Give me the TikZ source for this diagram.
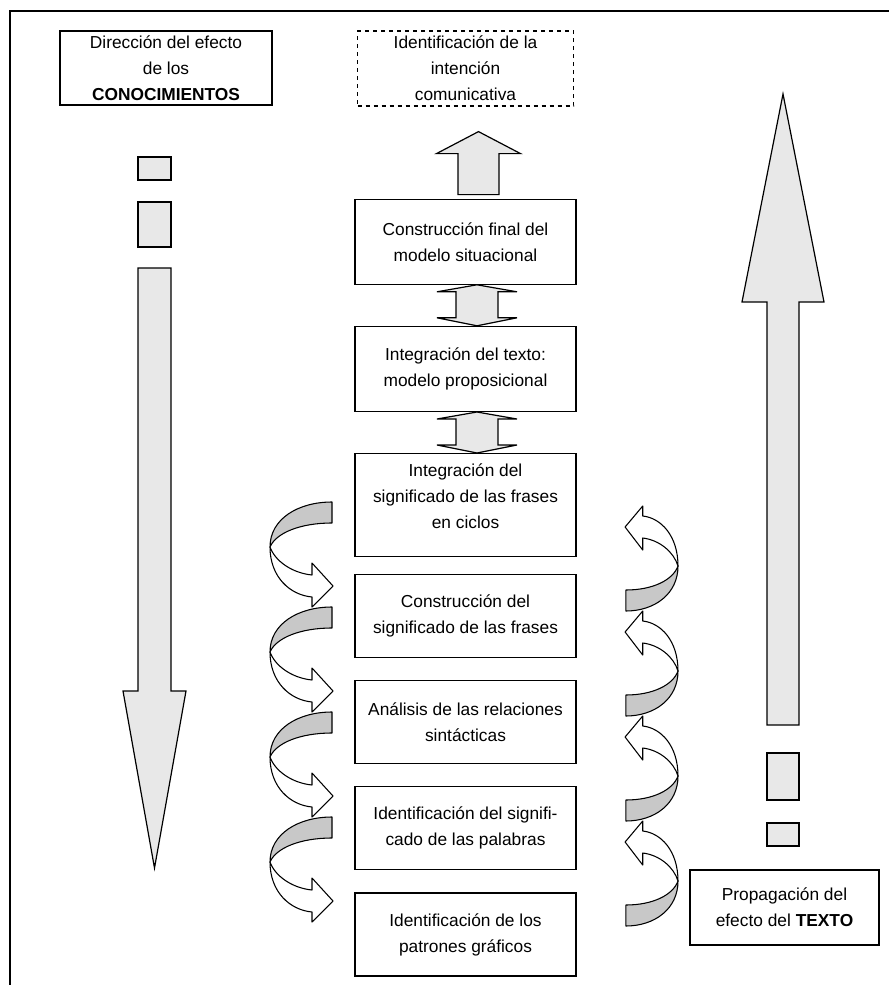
\documentclass[tikz,border=0pt]{standalone}
\usepackage{fontspec}
\setmainfont{Liberation Sans}
\usetikzlibrary{positioning}
\definecolor{arrowfill}{RGB}{232,232,232}
\definecolor{bandgray}{RGB}{200,200,200}

\tikzset{
  curl/.style={draw, line width=0.8pt, line join=round},
  lcurl/.pic={
    % back of the band
    \draw[curl, fill=bandgray] (62,-45) .. controls (28,-45) and (0,-28) .. (0,0)
      .. controls (6,-14) and (30,-24) .. (62,-24) -- cycle;
    % front of the band with its head
    \draw[curl, fill=white] (0,0) .. controls (0,30) and (20,48) .. (42,50)
      -- (42,60) -- (63,39) -- (42,16) -- (42,28)
      .. controls (22,26) and (5,14) .. (0,0) -- cycle;
  }
}

\begin{document}
\begin{tikzpicture}[x=0.75pt, y=-0.75pt,
    box/.style={
      rectangle, draw, line width=0.9pt, fill=white,
      minimum width=165.75pt, minimum height=62.25pt, align=center,
      inner sep=2pt, font=\fontsize{13}{19.5}\selectfont
    },
    side/.style={box, minimum width=159pt, minimum height=55.5pt},
    blockarr/.style={draw, line width=0.9pt, fill=arrowfill, line join=miter}
]
  \useasboundingbox (0,0) rectangle (889,985);

  % frame
  \draw[line width=2pt] (10,985) -- (10,11) -- (889,11);

  % centre column
  \node[box, dashed, minimum width=162pt, minimum height=56.25pt] (intent) at (465.5,68.5)
    {Identificación de la\\intención\\comunicativa};
  \node[box, minimum height=63.75pt, below=69pt of intent] (situ)
    {Construcción final del\\modelo situacional};
  \node[box, minimum height=63.75pt, below=30.75pt of situ] (prop)
    {Integración del texto:\\modelo proposicional};
  \node[box, minimum height=77.25pt, below=30.75pt of prop] (cycle)
    {Integración del\\significado de las frases\\en ciclos\\[-6pt]\mbox{}};
  \node[box, below=12.4pt of cycle] (sent)
    {Construcción del\\significado de las frases};
  \node[box, below=16.5pt of sent] (synt)
    {Análisis de las relaciones\\sintácticas};
  \node[box, below=16.5pt of synt] (word)
    {Identificación del signifi-\\cado de las palabras};
  \node[box, below=16.5pt of word] (graph)
    {Identificación de los\\patrones gráficos};

  % side boxes
  \node[side] (know) at (166,68)
    {Dirección del efecto\\de los\\\textbf{CONOCIMIENTOS}};
  \node[side, minimum width=141.75pt, minimum height=56.25pt] (txt) at (784.5,907.5)
    {Propagación del\\efecto del \textbf{TEXTO}};

  % block arrows between the upper boxes
  \draw[blockarr] ([xshift=9.75pt, yshift=3pt]situ.north) ++(-20.5,0) -- ++(0,-41)
    -- ++(-21.5,0) -- ++(42,-22) -- ++(42,22) -- ++(-21.5,0) -- ++(0,41) -- cycle;
  \draw[blockarr] ([xshift=8.6pt]situ.south) -- ++(40,7) -- ++(-19,0) -- ++(0,26)
    -- ++(19,0) -- ++(-40,8) -- ++(-40,-8) -- ++(19,0) -- ++(0,-26) -- ++(-19,0) -- cycle;
  \draw[blockarr] ([xshift=8.6pt]prop.south) -- ++(40,7) -- ++(-19,0) -- ++(0,26)
    -- ++(19,0) -- ++(-40,8) -- ++(-40,-8) -- ++(19,0) -- ++(0,-26) -- ++(-19,0) -- cycle;

  % big arrow, knowledge downwards
  \draw[blockarr] (138,157) rectangle (171,180);
  \draw[blockarr] (138,202) rectangle (171,247);
  \draw[blockarr] (138,268) -- (171,268) -- (171,691) -- (186,691) -- (154.5,868)
    -- (123,691) -- (138,691) -- cycle;

  % big arrow, text upwards
  \draw[blockarr] (767,725) -- (767,302) -- (742,302) -- (783,94) -- (824,302)
    -- (799,302) -- (799,725) -- cycle;
  \draw[blockarr] (767,753) rectangle (799,800);
  \draw[blockarr] (767,823) rectangle (799,846);

  % curled arrows
  \foreach \y in {547,652,757,862}
    \pic at (270,\y) {lcurl};
  \foreach \y in {566,671,776,881}
    \pic[rotate=180, xscale=0.84] at (678,\y) {lcurl};
\end{tikzpicture}
\end{document}
